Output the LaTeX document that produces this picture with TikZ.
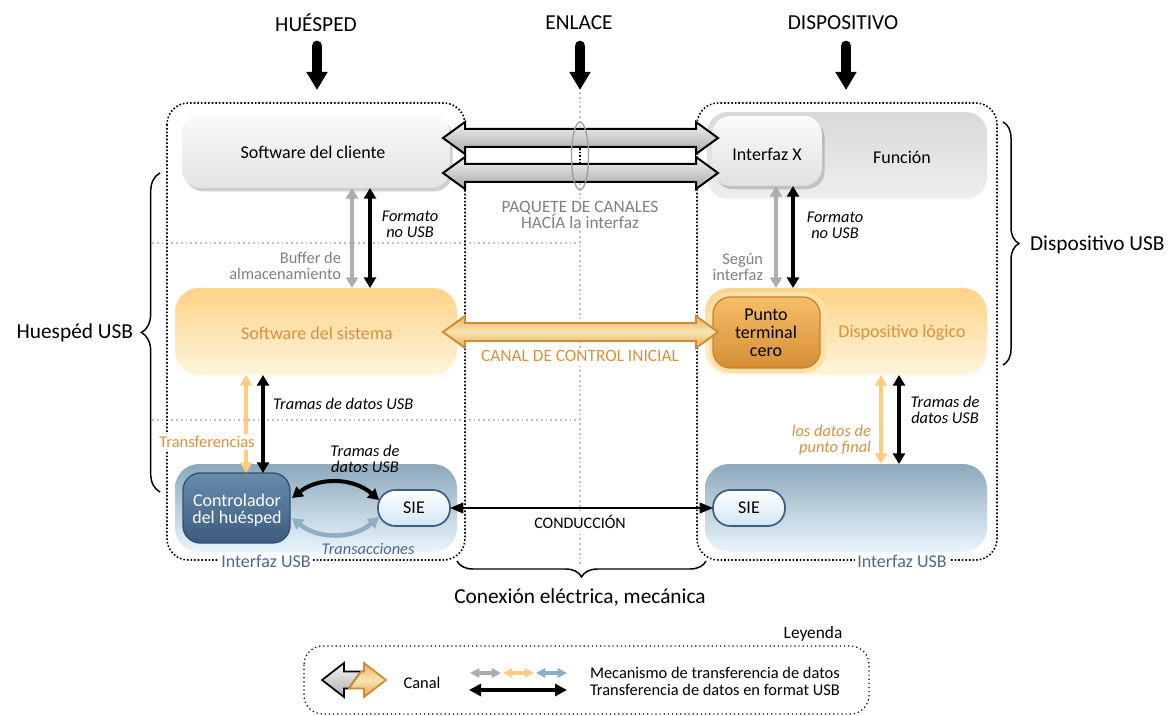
\documentclass[tikz,border=0pt]{standalone}
\usepackage{fontspec}
\setmainfont{Carlito}
\usetikzlibrary{arrows.meta,shadows,decorations.pathreplacing,calc,fit}
\definecolor{otext}{RGB}{216,145,62}
\definecolor{oarrow}{RGB}{255,204,128}
\definecolor{otop}{RGB}{253,211,134}
\definecolor{obot}{RGB}{255,245,222}
\definecolor{ptop}{RGB}{246,190,104}
\definecolor{pbot}{RGB}{214,142,54}
\definecolor{pborder}{RGB}{200,132,46}
\definecolor{pglow}{RGB}{253,224,168}
\definecolor{btop}{RGB}{139,169,188}
\definecolor{bbot}{RGB}{234,245,252}
\definecolor{ctop}{RGB}{104,139,172}
\definecolor{cbot}{RGB}{60,92,126}
\definecolor{cborder}{RGB}{50,80,112}
\definecolor{siebot}{RGB}{212,230,245}
\definecolor{sieborder}{RGB}{62,94,132}
\definecolor{btext}{RGB}{74,104,145}
\definecolor{barrow}{RGB}{143,174,196}
\definecolor{garrow}{RGB}{172,172,172}
\definecolor{gtext}{RGB}{128,128,128}
\definecolor{gline}{RGB}{190,190,190}
\definecolor{ochtop}{RGB}{232,180,100}
\definecolor{ochmid}{RGB}{248,228,178}
\definecolor{ochbot}{RGB}{226,168,88}
\definecolor{ochborder}{RGB}{208,138,48}
\newcommand\fTitle{\fontsize{16}{19}\selectfont}
\newcommand\fMain{\fontsize{13.5}{13.5}\selectfont\lineskiplimit=-100pt}
\newcommand\fCtrl{\fontsize{13.5}{12.4}\selectfont\lineskiplimit=-100pt}
\newcommand\fSmall{\fontsize{12.3}{11.8}\selectfont\lineskiplimit=-100pt}
\newcommand\fCap{\fontsize{13}{12}\selectfont\lineskiplimit=-100pt}
\newcommand\chanarrow[7]{\draw[#1] (#2,#4) -- ({#2+#7},{#4-#6}) -- ({#2+#7},{#4-#5}) -- ({#3-#7},{#4-#5}) -- ({#3-#7},{#4-#6}) -- (#3,#4) -- ({#3-#7},{#4+#6}) -- ({#3-#7},{#4+#5}) -- ({#2+#7},{#4+#5}) -- ({#2+#7},{#4+#6}) -- cycle;}
\begin{document}
\begin{tikzpicture}[x=0.75pt,y=-0.75pt,every node/.style={inner sep=0pt,outer sep=0pt},
  guide/.style={draw=gline,line width=1pt,dash pattern=on 1.4pt off 2.2pt},
  frame/.style={draw=black,line width=1.2pt,dash pattern=on 1.2pt off 1.5pt,rounded corners=16pt},
  shad/.style={drop shadow={shadow xshift=2pt,shadow yshift=-2.5pt,opacity=0.35,fill=black!55}},
  chan/.style={draw=black,line width=1.5pt,line join=miter,top color=gray!10,bottom color=gray!68},
  ochan/.style={draw=ochborder,line width=1.4pt,line join=miter,top color=ochtop,bottom color=ochbot,middle color=ochmid},
  dbl/.style={line width=3pt,{Triangle[length=8pt,width=9pt]}-{Triangle[length=8pt,width=9pt]}},
  thin/.style={line width=1.4pt,{Triangle[length=10pt,width=8pt]}-{Triangle[length=10pt,width=8pt]}},
  small/.style={line width=2.6pt,{Triangle[length=7pt,width=7pt]}-{Triangle[length=7pt,width=7pt]}},
  titarrow/.style={line width=8pt,line cap=round,-{Triangle[length=13.5pt,width=15pt]}},
  bracestyle/.style={decorate,decoration={brace,amplitude=12pt},line width=1.1pt},
  lbl/.style={font=\fSmall,align=center},
  wlbl/.style={fill=white,inner sep=1.5pt}
]
\useasboundingbox (0,0) rectangle (1176,716);
\fill[white] (0,0) rectangle (1176,716);

% guides
\draw[guide] (152,243) -- (580,243);
\draw[guide] (152,420) -- (580,420);
\draw[guide] (580,92) -- (580,564);

% frames
\draw[frame] (167,103) rectangle (465,560);
\draw[frame] (697,103) rectangle (997,560);

% top row boxes
\node[fit={(182,115)(450,188)},rounded corners=14pt,top color=gray!4,bottom color=gray!22,shad] (cliente) {};
\node[font=\fMain] (clientet) at (313,152) {Software del cliente};
\node[fit={(707,112)(987,199)},rounded corners=16pt,top color=gray!30,bottom color=gray!13] (funcion) {};
\node[font=\fMain] (funciont) at (902,157) {Función};
\node[fit={(712,116)(822,186)},rounded corners=14pt,top color=gray!3,bottom color=gray!24,shad] (ifx) {};
\node[font=\fMain] (ifxt) at (767,154) {Interfaz X};

% middle row boxes
\node[fit={(175,288)(457,375)},rounded corners=18pt,top color=otop,bottom color=obot] (sistema) {};
\node[font=\fMain,text=otext] (sistemat) at (317,333) {Software del sistema};
\node[fit={(705,288)(987,375)},rounded corners=18pt,top color=otop,bottom color=obot] (dlog) {};
\node[font=\fMain,text=otext] (dlogt) at (902,333) {Dispositivo lógico};
\node[fit={(709,292)(826,373)},rounded corners=16pt,fill=pglow] (pglowbox) {};
\node[fit={(713,297)(820,368)},rounded corners=13pt,top color=ptop,bottom color=pbot,draw=pborder,line width=1pt] (punto) {};
\node[font=\fMain,align=center] (puntot) at (766,333) {Punto\\terminal\\cero};

% bottom row boxes
\node[fit={(175,464)(457,552)},rounded corners=18pt,top color=btop,bottom color=bbot] (hostusb) {};
\node[fit={(705,464)(987,552)},rounded corners=18pt,top color=btop,bottom color=bbot] (devusb) {};
\node[fit={(183,473)(290,543)},rounded corners=13pt,top color=ctop,bottom color=cbot,draw=cborder,line width=1pt] (ctrl) {};
\node[font=\fCtrl,text=white,align=center] (ctrlt) at (237,510) {Controlador\\del huésped};
\node[fit={(378,490)(450,526)},rounded corners=13pt,top color=white,bottom color=siebot,draw=sieborder,line width=1.3pt] (sieL) {};
\node[font=\fMain] (sieLt) at (414,508) {SIE};
\node[fit={(713,490)(785,526)},rounded corners=13pt,top color=white,bottom color=siebot,draw=sieborder,line width=1.3pt] (sieR) {};
\node[font=\fMain] (sieRt) at (749,508) {SIE};

% channels
\chanarrow{chan}{443}{718}{138}{9}{16}{22}
\chanarrow{chan}{443}{718}{173}{9}{16}{22}
\chanarrow{ochan}{443}{718}{332}{9}{16}{22}
\draw[black,line width=1.2pt,dash pattern=on 1.2pt off 1.5pt] (580,148) -- (580,164);
\draw[gray!75,line width=1pt] (580,156) ellipse [x radius=6.4pt,y radius=25.5pt];

% captions on white
\node[font=\fCap,text=gtext,align=center,wlbl] (paq) at (580,215) {PAQUETE DE CANALES\\HACÍA la interfaz};
\node[font=\fCap,text=otext,wlbl] (cci) at (580,356) {CANAL DE CONTROL INICIAL};
\node[font=\fontsize{12}{12}\selectfont,wlbl] (cond) at (580,522) {CONDUCCIÓN};

% column coordinates
\coordinate (xg1) at (352,0); \coordinate (xk1) at (370,0);
\coordinate (xg2) at (776,0); \coordinate (xk2) at (793,0);
\coordinate (xo1) at (246,0); \coordinate (xk3) at (263,0);
\coordinate (xo2) at (881,0); \coordinate (xk4) at (899,0);

% vertical data arrows
\draw[dbl,garrow] (cliente.south -| xg1) -- (sistema.north -| xg1);
\draw[dbl,black] (cliente.south -| xk1) -- (sistema.north -| xk1);
\draw[dbl,garrow] (ifx.south -| xg2) -- (dlog.north -| xg2);
\draw[dbl,black] (ifx.south -| xk2) -- (dlog.north -| xk2);
\draw[dbl,oarrow] (sistema.south -| xo1) -- (ctrl.north -| xo1);
\draw[dbl,black] (sistema.south -| xk3) -- (ctrl.north -| xk3);
\draw[dbl,oarrow] (dlog.south -| xo2) -- (devusb.north -| xo2);
\draw[dbl,black] (dlog.south -| xk4) -- (devusb.north -| xk4);

% curved arrows
\draw[dbl,black] ($(ctrl.east)+(2,-10)$) to[bend left=40] ($(sieL.west)+(1,-8)$);
\draw[dbl,barrow,line width=3.4pt] ($(ctrl.east)+(2,10)$) to[bend right=40] ($(sieL.west)+(1,9)$);

% conduction
\draw[thin,black] (sieL.east) -- (sieR.west);

% labels
\node[lbl,font=\fSmall\itshape] (fmt1) at (410,224) {Formato\\no USB};
\node[lbl,text=gtext,anchor=east,align=right] (buf) at (341,266) {Buffer de\\almacenamiento};
\node[lbl,font=\fSmall\itshape] (fmt2) at (835,225) {Formato\\no USB};
\node[lbl,text=gtext,anchor=east,align=right] (seg) at (763,267) {Según\\interfaz};
\node[lbl,font=\fSmall\itshape,anchor=west] (tr1) at (273,404) {Tramas de datos USB};
\node[lbl,text=otext,wlbl] (transf) at (207,442) {Transferencias};
\node[lbl,font=\fSmall\itshape] (tr2) at (945,410) {Tramas de\\datos USB};
\node[lbl,font=\fSmall\itshape,text=otext,anchor=east,align=right] (ldp) at (871,440) {los datos de\\punto final};
\node[lbl,font=\fSmall\itshape] (tr3) at (365,459) {Tramas de\\datos USB};
\node[lbl,font=\fSmall\itshape,text=btext] (trans) at (368,549) {Transacciones};
\node[font=\fMain,text=btext,wlbl] (ifl) at (266,561) {Interfaz USB};
\node[font=\fMain,text=btext,wlbl] (ifr) at (902,561) {Interfaz USB};

% titles
\node[font=\fTitle] (tHost) at (316,23) {HUÉSPED};
\node[font=\fTitle] (tLink) at (579,23) {ENLACE};
\node[font=\fTitle] (tDev) at (843,23) {DISPOSITIVO};
\draw[titarrow] ($(tHost)+(1,23)$) -- ($(tHost)+(1,67)$);
\draw[titarrow] ($(tLink)+(1,23)$) -- ($(tLink)+(1,67)$);
\draw[titarrow] ($(tDev)+(3,23)$) -- ($(tDev)+(3,67)$);

% braces
\coordinate (bl1) at (160,492); \coordinate (bl2) at (160,173);
\draw[bracestyle,decoration={amplitude=14pt}] (bl1) -- (bl2);
\node[font=\fTitle,anchor=east] (hUSB) at (133,333) {Huespéd USB};
\coordinate (br1) at (1003,122); \coordinate (br2) at (1003,365);
\draw[bracestyle] (br1) -- (br2);
\node[font=\fTitle,anchor=west] (dUSB) at (1030,245) {Dispositivo USB};
\coordinate (bb1) at (706,561); \coordinate (bb2) at (457,561);
\draw[bracestyle] (bb1) -- (bb2);
\node[font=\fTitle] (conex) at (580,597) {Conexión eléctrica, mecánica};

% legend
\draw[black,line width=0.9pt,dash pattern=on 0.9pt off 2.2pt,rounded corners=14pt] (304,646) rectangle (869,714);
\node[font=\fontsize{13}{13}\selectfont] (ley) at (813,634) {Leyenda};
\draw[line width=1.3pt,line join=miter,top color=gray!8,bottom color=gray!62] (322,680) -- (344,663) -- (344,671.5) -- (361,671.5) -- (349,688.5) -- (344,688.5) -- (344,697) -- cycle;
\draw[draw=ochborder,line width=1.3pt,line join=miter,top color=ochtop,bottom color=ochbot,middle color=ochmid] (386,680) -- (364,663) -- (364,671.5) -- (361,671.5) -- (349,688.5) -- (364,688.5) -- (364,697) -- cycle;
\node[font=\fSmall] (canal) at (422,683) {Canal};
\draw[small,garrow] (470,673) -- (501,673);
\draw[small,oarrow] (503,673) -- (534,673);
\draw[small,barrow] (536,673) -- (567,673);
\draw[black,line width=2.4pt,{Triangle[length=9pt,width=9pt]}-{Triangle[length=9pt,width=9pt]}] (469,690) -- (567,690);
\node[font=\fSmall,anchor=west] (mec) at (590,673) {Mecanismo de transferencia de datos};
\node[font=\fSmall,anchor=west] (tdf) at (590,690) {Transferencia de datos en format USB};
\end{tikzpicture}
\end{document}
